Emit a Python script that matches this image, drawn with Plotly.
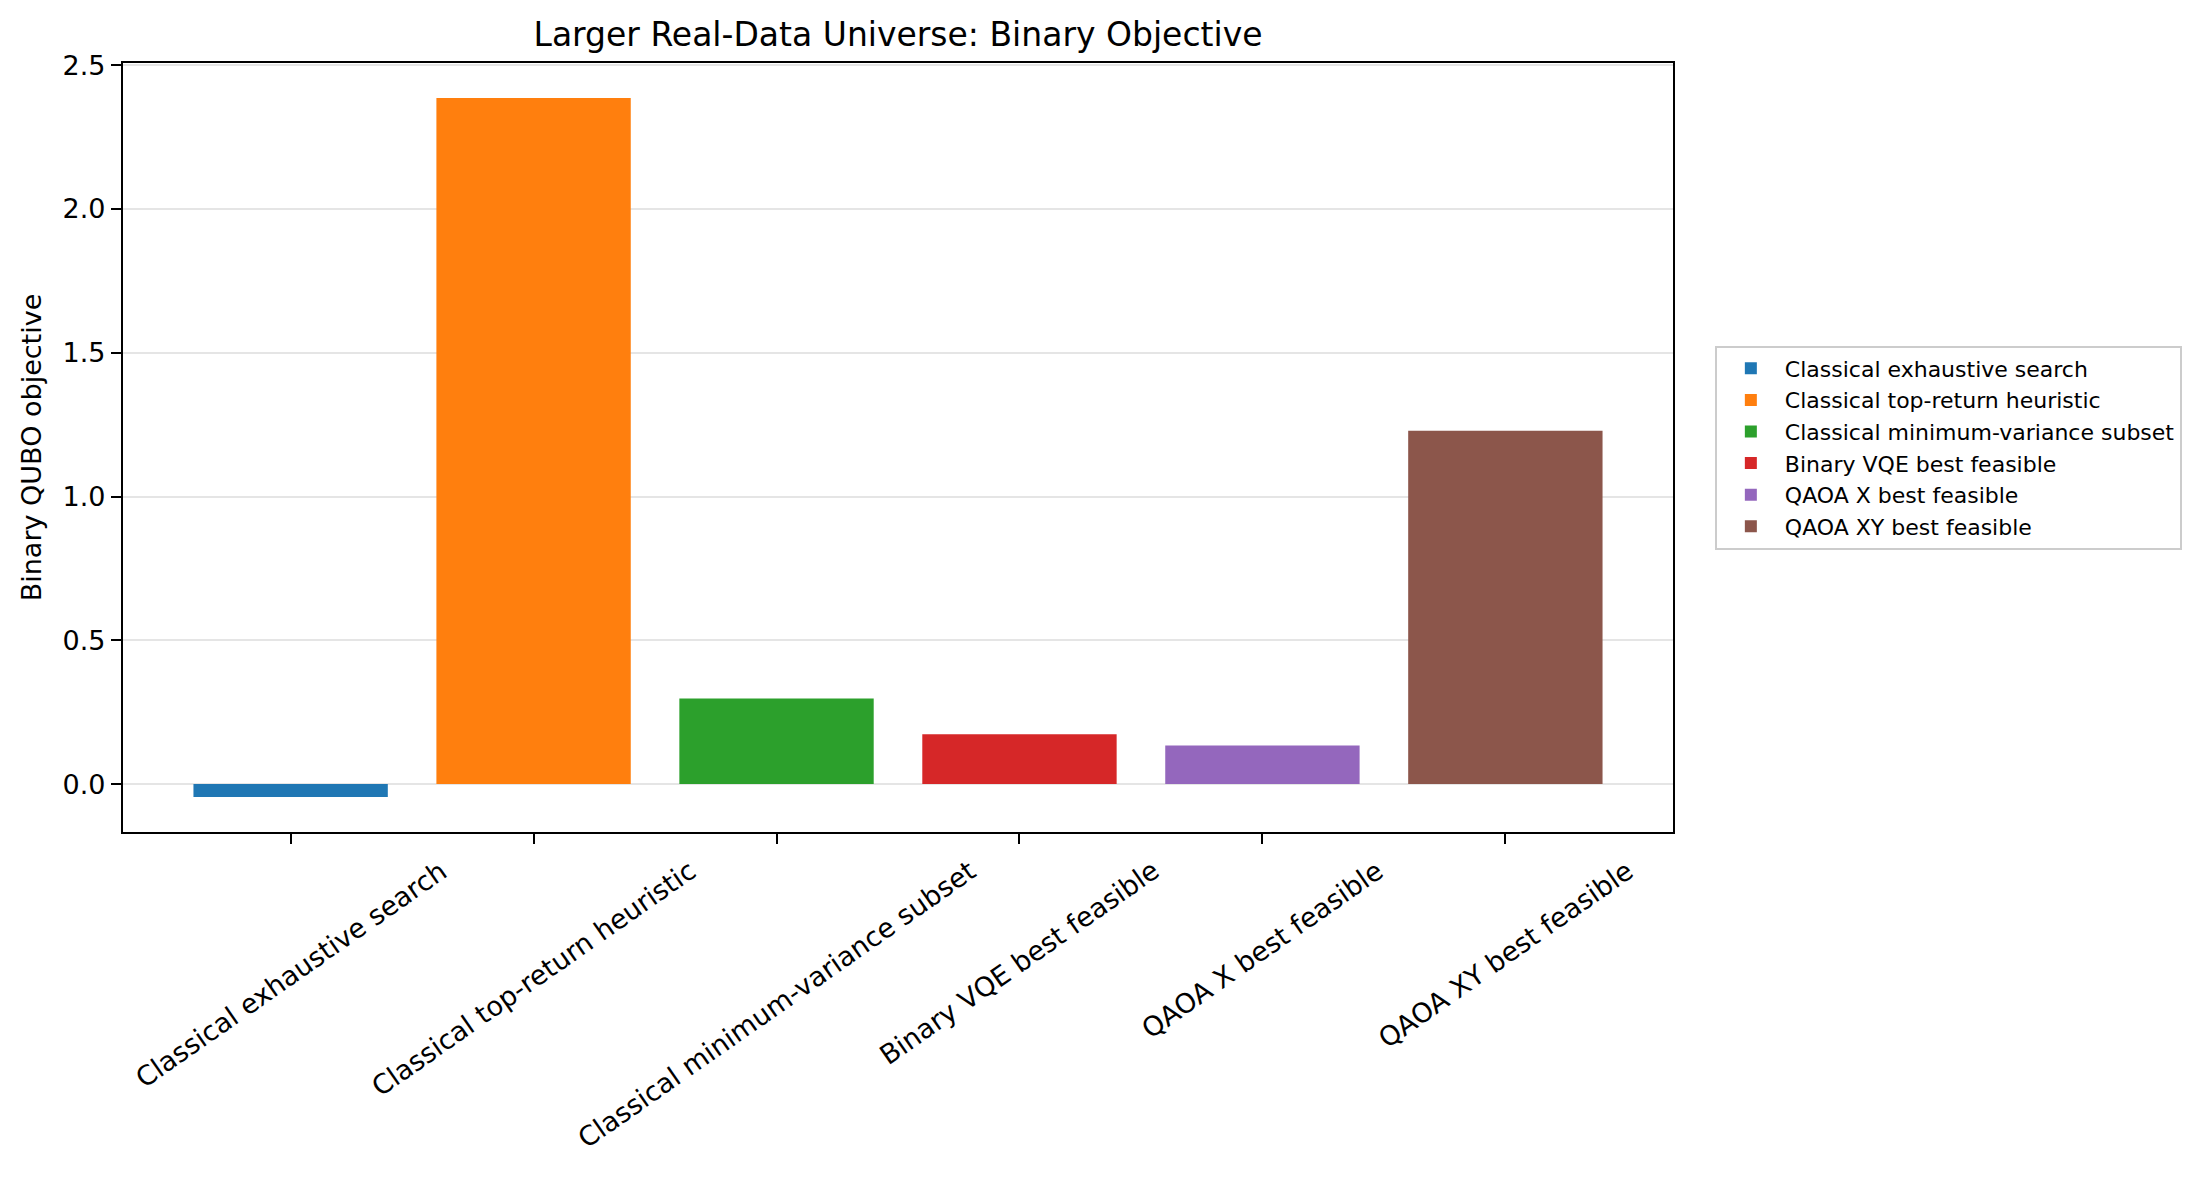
import plotly.graph_objects as go

categories = [
    "Classical exhaustive search",
    "Classical top-return heuristic",
    "Classical minimum-variance subset",
    "Binary VQE best feasible",
    "QAOA X best feasible",
    "QAOA XY best feasible",
]
values = [-0.045, 2.386, 0.298, 0.173, 0.1345, 1.229]
colors = ["#1f77b4", "#ff7f0e", "#2ca02c", "#d62728", "#9467bd", "#8c564b"]
y_ticks = [0.0, 0.5, 1.0, 1.5, 2.0, 2.5]

FONT = "DejaVu Sans"
fig = go.Figure()
for i, (c, v, col) in enumerate(zip(categories, values, colors)):
    fig.add_trace(go.Bar(x=[i], y=[v], name=c, marker=dict(color=col, line=dict(width=0)), width=0.8))

for i, c in enumerate(categories):
    fig.add_annotation(x=i, xref="x", y=0, yref="paper", yshift=-20, text=c, showarrow=False,
                       textangle=-35, xanchor="center", yanchor="top",
                       font=dict(family=FONT, size=27, color="black"))

vmin, vmax = min(values), max(values)
pad = 0.05 * (vmax - vmin)

fig.update_layout(
    width=2209, height=1177,
    margin=dict(l=123, r=536, t=63, b=345),
    paper_bgcolor="white", plot_bgcolor="white",
    barmode="overlay",
    font=dict(family=FONT, size=27, color="black"),
    title=dict(text="Larger Real-Data Universe: Binary Objective", x=(123 + 1673) / 2 / 2209, xanchor="center",
               y=1 - 34 / 1177, yanchor="middle", font=dict(size=33, family=FONT, color="black")),
    legend=dict(x=1.027, xanchor="left", y=0.5, yanchor="middle", bordercolor="#cccccc", borderwidth=2,
                font=dict(size=22, family=FONT), bgcolor="white", tracegroupgap=0, itemwidth=58),
    showlegend=True,
)
fig.update_xaxes(range=[-0.69, 5.69], tickvals=list(range(len(categories))), showticklabels=False,
                 ticks="outside", ticklen=10, tickwidth=2, tickcolor="black",
                 showline=True, linecolor="black", linewidth=2.2, mirror=True, showgrid=False, zeroline=False)
fig.update_yaxes(range=[vmin - pad, vmax + pad], tickvals=y_ticks, tickformat=".1f",
                 ticks="outside", ticklen=10, tickwidth=2, tickcolor="black",
                 showline=True, linecolor="black", linewidth=2.2, mirror=True,
                 showgrid=True, gridcolor="#e5e5e5", gridwidth=2, zeroline=False,
                 title=dict(text="Binary QUBO objective", font=dict(size=27, family=FONT), standoff=13))

fig.write_html("out.html")
